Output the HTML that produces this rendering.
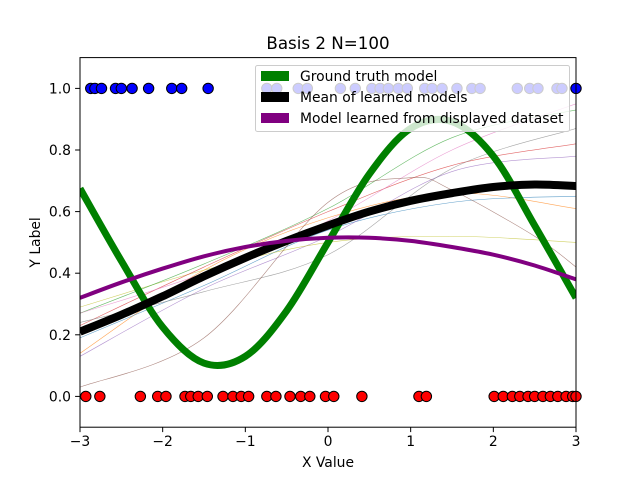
<!DOCTYPE html>
<html><head><meta charset="utf-8"><style>
body{margin:0;background:#fff}
svg text{font-family:"DejaVu Sans","Liberation Sans",sans-serif;fill:#000}
</style></head><body>
<svg id="chart" width="640" height="480" xmlns="http://www.w3.org/2000/svg">
<rect width="640" height="480" fill="#fff"/>
<g id="plot"></g>
</svg>
<script>
const xTicks=[-3,-2,-1,0,1,2,3];
const yTicks=[0,0.2,0.4,0.6,0.8,1.0];
const yTickLabels=["0.0","0.2","0.4","0.6","0.8","1.0"];
const gridX=[-3,-2.5,-2,-1.5,-1,-0.5,0,0.5,1,1.5,2,2.5,3];
const groundTruth=[0.675,0.44,0.225,0.108,0.13,0.278,0.5,0.722,0.87,0.892,0.78,0.555,0.32];
const meanModel=[0.21,0.265,0.325,0.39,0.45,0.505,0.555,0.60,0.635,0.66,0.68,0.688,0.683];
const learnedModel=[0.32,0.37,0.415,0.455,0.485,0.505,0.515,0.515,0.505,0.485,0.46,0.425,0.38];
const thinX=[-3,-1.5,0,1.5,3];
const thinOrange=[0.14,0.41,0.58,0.66,0.61];
const thinBlue=[0.19,0.36,0.54,0.63,0.65];
const thinPurple=[0.13,0.35,0.52,0.73,0.78];
const thinYellow=[0.29,0.41,0.50,0.52,0.50];
const thinGreen=[0.27,0.43,0.61,0.84,0.93];
const thinRed=[0.23,0.42,0.60,0.75,0.82];
const thinPink=[0.27,0.40,0.57,0.80,0.95];
const thinGray=[0.24,0.34,0.46,0.74,0.87];
const brownX=[-3,-1.5,0,1,1.5,2.5,3];
const thinBrown=[0.03,0.19,0.63,0.71,0.67,0.52,0.42];
const blueX=[-2.87,-2.82,-2.74,-2.57,-2.50,-2.37,-2.17,-1.89,-1.77,-1.45,-0.74,-0.62,-0.36,-0.25,0.15,0.33,0.53,0.63,0.73,0.85,0.96,1.17,1.26,1.38,1.56,1.74,1.84,2.29,2.44,2.54,2.77,2.83,3.0];
const redX=[-2.93,-2.76,-2.27,-2.06,-1.96,-1.73,-1.66,-1.57,-1.46,-1.27,-1.15,-1.05,-0.96,-0.74,-0.63,-0.46,-0.33,-0.22,-0.03,0.07,0.41,1.10,1.19,2.01,2.12,2.23,2.32,2.42,2.50,2.60,2.69,2.78,2.88,2.96,3.0];

const L=80,R=576,T=57.6,B=427.2;
const sx=v=>L+(v+3)/6*(R-L);
const sy=v=>B-(v+0.1)/1.2*(B-T);
const NS="http://www.w3.org/2000/svg";
const plot=document.getElementById('plot');
function mk(tag,attrs,parent){const e=document.createElementNS(NS,tag);for(const k in attrs)e.setAttribute(k,attrs[k]);(parent||plot).appendChild(e);return e;}
function smooth(xs,ys){
  const p=xs.map((x,i)=>[sx(x),sy(ys[i])]);
  let d=`M${p[0][0]},${p[0][1]}`;
  for(let i=0;i<p.length-1;i++){
    const p0=p[Math.max(i-1,0)],p1=p[i],p2=p[i+1],p3=p[Math.min(i+2,p.length-1)];
    d+=` C${p1[0]+(p2[0]-p0[0])/6},${p1[1]+(p2[1]-p0[1])/6} ${p2[0]-(p3[0]-p1[0])/6},${p2[1]-(p3[1]-p1[1])/6} ${p2[0]},${p2[1]}`;
  }
  return d;
}
const defs=mk('defs',{});
const cp=mk('clipPath',{id:'clip'},defs);
mk('rect',{x:L,y:T,width:R-L,height:B-T},cp);
const g=mk('g',{'clip-path':'url(#clip)'});



const thin=[[thinX,thinOrange,'#ff7f0e','thin-orange'],[thinX,thinBlue,'#1f77b4','thin-blue'],[thinX,thinPurple,'#9467bd','thin-purple'],[thinX,thinYellow,'#bcbd22','thin-yellow'],[thinX,thinGreen,'#2ca02c','thin-green'],[thinX,thinRed,'#d62728','thin-red'],[thinX,thinPink,'#e377c2','thin-pink'],[thinX,thinGray,'#7f7f7f','thin-gray'],[brownX,thinBrown,'#8c564b','thin-brown']];
thin.forEach(([xs,ys,c,n])=>{
  const e=mk('path',{d:smooth(xs,ys),fill:'none',stroke:c,'stroke-width':0.6,opacity:0.7},g);
  
  
});
const gt=mk('path',{d:smooth(gridX,groundTruth),fill:'none',stroke:'#008000','stroke-width':7},g);


const mm=mk('path',{d:smooth(gridX,meanModel),fill:'none',stroke:'#000','stroke-width':8},g);


const lm=mk('path',{d:smooth(gridX,learnedModel),fill:'none',stroke:'#800080','stroke-width':4},g);



blueX.forEach(x=>{
  const c=mk('circle',{cx:sx(x),cy:sy(1),r:5.2,fill:'#0000ff',stroke:'#000','stroke-width':1},plot);
  
  
});
redX.forEach(x=>{
  const c=mk('circle',{cx:sx(x),cy:sy(0),r:5.2,fill:'#ff0000',stroke:'#000','stroke-width':1},plot);
  
  
});

const fr=mk('rect',{x:L,y:T,width:R-L,height:B-T,fill:'none',stroke:'#000','stroke-width':1});


xTicks.forEach(t=>{
  mk('line',{x1:sx(t),x2:sx(t),y1:B,y2:B+4.9,stroke:'#000','stroke-width':1});
  const tx=mk('text',{x:sx(t),y:B+19,'font-size':13.9,'text-anchor':'middle'});
  tx.textContent=(t<0?'\u2212'+(-t):String(t));
  
  
});
yTicks.forEach((t,i)=>{
  mk('line',{x1:L-4.9,x2:L,y1:sy(t),y2:sy(t),stroke:'#000','stroke-width':1});
  const tx=mk('text',{x:L-9,y:sy(t)+5,'font-size':13.9,'text-anchor':'end'});
  tx.textContent=yTickLabels[i];
  
  
});
const xt=mk('text',{x:(L+R)/2,y:467,'font-size':13.9,'text-anchor':'middle'});xt.textContent='X Value';


const yt=mk('text',{x:40,y:(T+B)/2,'font-size':13.9,'text-anchor':'middle',transform:`rotate(-90 40 ${(T+B)/2})`});yt.textContent='Y Label';


const ti=mk('text',{x:(L+R)/2,y:49,'font-size':16.7,'text-anchor':'middle'});ti.textContent='Basis 2 N=100';



const lg=mk('g',{});


mk('rect',{x:255.5,y:65.5,width:314,height:66,rx:2,fill:'rgba(255,255,255,0.8)',stroke:'#ccc','stroke-width':1},lg);
const entries=[['Ground truth model','#008000','legend-ground-truth'],['Mean of learned models','#000','legend-mean-model'],['Model learned from displayed dataset','#800080','legend-learned-model']];
entries.forEach(([t,c,n],i)=>{
  const y=71+i*21;
  const eg=mk('g',{},lg);
  
  
  mk('rect',{x:261,y:y,width:28,height:10,fill:c},eg);
  const tx=mk('text',{x:300,y:y+10,'font-size':13.9},eg);tx.textContent=t;
});
</script>
</body></html>
